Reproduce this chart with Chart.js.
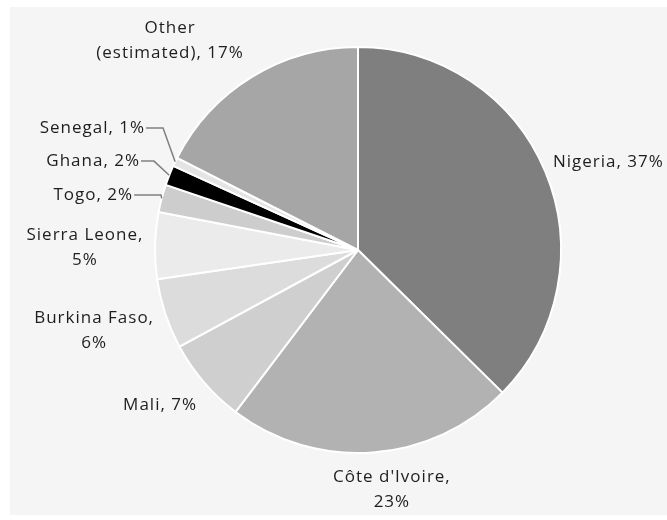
<!DOCTYPE html>
<html>
<head>
<meta charset="utf-8">
<script src="https://cdn.jsdelivr.net/npm/chart.js@4/dist/chart.umd.min.js"></script>
<style>
  html, body { margin: 0; padding: 0; background: #ffffff; }
  #wrap { width: 667px; height: 520px; }
</style>
</head>
<body>
<div id="wrap"><canvas id="pie" width="667" height="520"></canvas></div>
<script>
// slices clockwise from 12 o'clock
const countries = ['Nigeria', "Côte d'Ivoire", 'Mali', 'Burkina Faso', 'Sierra Leone', 'Togo', 'Ghana', 'Senegal', 'Other (estimated)'];
const shares = [37.4, 22.9, 6.8, 5.6, 5.3, 2.2, 1.6, 0.7, 17.5];
const labelTexts = [
  ['Nigeria, 37%'],
  ["Côte d'Ivoire,", '23%'],
  ['Mali, 7%'],
  ['Burkina Faso,', '6%'],
  ['Sierra Leone,', '5%'],
  ['Togo, 2%'],
  ['Ghana, 2%'],
  ['Senegal, 1%'],
  ['Other', '(estimated), 17%']
];
const sliceColors = ['#7f7f7f', '#b2b2b2', '#cfcfcf', '#dcdcdc', '#ebebeb', '#cdcdcd', '#000000', '#e4e4e4', '#a6a6a6'];

// label placement, in units of the pie radius from its centre
const labelLayout = [
  { x: 0.96, y: -0.433, align: 'left' },
  { x: 0.167, y: 1.118, align: 'center' },
  { x: -0.793, y: 0.764, align: 'right' },
  { x: -1.30, y: 0.335, align: 'center' },
  { x: -1.345, y: -0.074, align: 'center' },
  { x: -1.108, y: -0.271, align: 'right', leader: 27 },
  { x: -1.074, y: -0.438, align: 'right', leader: 13 },
  { x: -1.049, y: -0.601, align: 'right', leader: 17 },
  { x: -0.926, y: -1.094, align: 'center' }
];

const FONT = "17px 'Open Sans', sans-serif";
const LINE_HEIGHT = 25;

const panelPlugin = {
  id: 'panel',
  beforeDraw(chart) {
    const ctx = chart.ctx;
    ctx.save();
    ctx.fillStyle = '#f5f5f5';
    ctx.fillRect(10, 7, chart.width - 10, chart.height - 12);
    ctx.restore();
  }
};

const labelPlugin = {
  id: 'sliceLabels',
  afterDraw(chart) {
    const ctx = chart.ctx;
    const arcs = chart.getDatasetMeta(0).data;
    ctx.save();
    ctx.font = FONT;
    ctx.letterSpacing = '1px';
    ctx.fillStyle = '#1e1e1e';
    ctx.textBaseline = 'middle';
    arcs.forEach((arc, i) => {
      const { x, y, outerRadius, startAngle, endAngle } = arc.getProps(['x', 'y', 'outerRadius', 'startAngle', 'endAngle'], true);
      const layout = labelLayout[i];
      const tx = x + layout.x * outerRadius;
      const ty = y + layout.y * outerRadius;
      ctx.textAlign = layout.align;
      labelTexts[i].forEach((line, j) => {
        ctx.fillText(line, tx, ty + j * LINE_HEIGHT);
      });
      if (layout.leader) {
        const mid = (startAngle + endAngle) / 2;
        const ex = x + Math.cos(mid) * outerRadius;
        const ey = y + Math.sin(mid) * outerRadius;
        ctx.beginPath();
        ctx.strokeStyle = '#808080';
        ctx.lineWidth = 1.5;
        ctx.moveTo(tx + 1, ty);
        ctx.lineTo(tx + 1 + layout.leader, ty);
        ctx.lineTo(ex, ey);
        ctx.stroke();
      }
    });
    ctx.restore();
  }
};

new Chart(document.getElementById('pie').getContext('2d'), {
  type: 'pie',
  data: {
    labels: countries,
    datasets: [
      {
        data: shares,
        backgroundColor: sliceColors,
        borderColor: '#ffffff',
        borderWidth: 2
      }
    ]
  },
  options: {
    responsive: false,
    animation: false,
    layout: {
      padding: { left: 130, right: 81, top: 46, bottom: 66 }
    },
    plugins: {
      legend: { display: false },
      tooltip: { enabled: false }
    }
  },
  plugins: [panelPlugin, labelPlugin]
});
</script>
</body>
</html>
